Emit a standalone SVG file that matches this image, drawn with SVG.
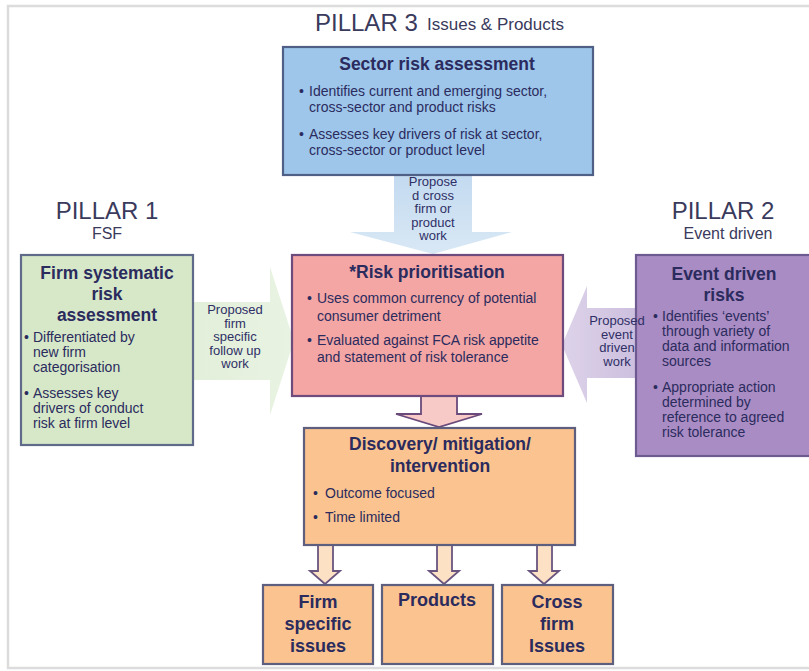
<svg xmlns="http://www.w3.org/2000/svg" width="809" height="671" viewBox="0 0 809 671">
<defs>
<linearGradient id="gBlue" x1="0" y1="0" x2="0" y2="1"><stop offset="0" stop-color="#c3daf0"/><stop offset="1" stop-color="#d9e8f5"/></linearGradient>
<linearGradient id="gGreen" x1="0" y1="0" x2="1" y2="0"><stop offset="0" stop-color="#e2efd9"/><stop offset="1" stop-color="#e9f3e3"/></linearGradient>
<linearGradient id="gPurple" x1="1" y1="0" x2="0" y2="0"><stop offset="0" stop-color="#cdbfdf"/><stop offset="1" stop-color="#ddd3e9"/></linearGradient>
<style>
text{font-family:"Liberation Sans",Arial,sans-serif;fill:#2b2b5e}
.pil{font-size:24px;fill:#3a3a5c}
.sub{font-size:16px;fill:#3a3a5c}
.t{font-size:17.5px;font-weight:bold;text-anchor:middle}
.b{font-size:14px}
.a{font-size:13px;text-anchor:middle;fill:#2f2f66}
.s{font-size:18px;font-weight:bold;text-anchor:middle}
.box{stroke-width:2.2}
.blue{fill:#9dc6ea;stroke:#4f5f85}
.pink{fill:#f3a6a4;stroke:#6e4b7d}
.green{fill:#d6e8c8;stroke:#5f6b88}
.purple{fill:#a98cc3;stroke:#6d5a90}
.orange{fill:#fac38f;stroke:#5e5e7e}
.darr{fill:#fde1c4;stroke:#6a5580;stroke-width:1.8}
</style>
</defs>
<rect x="8" y="6" width="812" height="662" fill="none" stroke="#dcdcdc" stroke-width="2.5"/>

<g id="connectors">
<path d="M394 175 H472 V232 H512 L433 254 L350 232 H394 Z" fill="url(#gBlue)"/>
<path d="M193 302 H270 V267 L294 341 L270 415 V380 H193 Z" fill="url(#gGreen)"/>
<path d="M636 308 H587 V286 L562 345 L587 403 V378 H636 Z" fill="url(#gPurple)"/>
<path d="M421 396 H457 V414 H482 L439 427 L396 414 H421 Z" fill="#f8cac7" stroke="#6a4a7a" stroke-width="1.8"/>
<path d="M318 545 H333 V571 H340 L325 584 L310 571 H318 Z" class="darr"/>
<path d="M437 545 H452 V571 H459 L444 584 L429 571 H437 Z" class="darr"/>
<path d="M537 545 H552 V571 H559 L544 584 L529 571 H537 Z" class="darr"/>
</g>

<g id="pillar3">
<text x="315" y="31" class="pil">PILLAR 3</text>
<text x="427" y="30" class="sub" style="font-size:17px">Issues &amp; Products</text>
</g>

<g id="sector">
<rect x="283" y="47" width="310" height="128" class="box blue"/>
<text x="437" y="70" class="t">Sector risk assessment</text>
<text x="299" y="96" class="b">•</text>
<text x="309" y="96" class="b">Identifies current and emerging sector,</text>
<text x="309" y="112" class="b">cross-sector and product risks</text>
<text x="299" y="139" class="b">•</text>
<text x="309" y="139" class="b">Assesses key drivers of risk at sector,</text>
<text x="309" y="155" class="b">cross-sector or product level</text>
</g>

<g id="pillar1">
<text x="107" y="219" class="pil" text-anchor="middle">PILLAR 1</text>
<text x="107" y="239" class="sub" text-anchor="middle">FSF</text>
</g>

<g id="pillar2">
<text x="723" y="219" class="pil" text-anchor="middle">PILLAR 2</text>
<text x="728" y="239" class="sub" text-anchor="middle">Event driven</text>
</g>

<g id="firm">
<rect x="21" y="255" width="172" height="190" class="box green"/>
<text x="107" y="279" class="t">Firm systematic</text>
<text x="107" y="300" class="t">risk</text>
<text x="107" y="321" class="t">assessment</text>
<text x="24" y="342" class="b">•</text>
<text x="33" y="342" class="b">Differentiated by</text>
<text x="33" y="357" class="b">new firm</text>
<text x="33" y="372" class="b">categorisation</text>
<text x="24" y="398" class="b">•</text>
<text x="33" y="398" class="b">Assesses key</text>
<text x="33" y="413" class="b">drivers of conduct</text>
<text x="33" y="428" class="b">risk at firm level</text>
</g>

<g id="risk">
<rect x="292" y="255" width="271" height="141" class="box pink"/>
<text x="427" y="278" class="t">*Risk prioritisation</text>
<text x="307" y="303" class="b">•</text>
<text x="317" y="303" class="b">Uses common currency of potential</text>
<text x="317" y="321" class="b">consumer detriment</text>
<text x="307" y="345" class="b">•</text>
<text x="317" y="345" class="b">Evaluated against FCA risk appetite</text>
<text x="317" y="362" class="b">and statement of risk tolerance</text>
</g>

<g id="event">
<rect x="636" y="255" width="175" height="201" class="box purple"/>
<text x="724" y="280" class="t">Event driven</text>
<text x="724" y="301" class="t">risks</text>
<text x="653" y="321" class="b">•</text>
<text x="662" y="321" class="b">Identifies ‘events’</text>
<text x="662" y="336" class="b">through variety of</text>
<text x="662" y="351" class="b">data and information</text>
<text x="662" y="366" class="b">sources</text>
<text x="653" y="392" class="b">•</text>
<text x="662" y="392" class="b">Appropriate action</text>
<text x="662" y="407" class="b">determined by</text>
<text x="662" y="422" class="b">reference to agreed</text>
<text x="662" y="437" class="b">risk tolerance</text>
</g>

<g id="labels">
<text x="433" y="186" class="a">Propose</text>
<text x="433" y="199.5" class="a">d cross</text>
<text x="433" y="213" class="a">firm or</text>
<text x="433" y="226.5" class="a">product</text>
<text x="433" y="240" class="a">work</text>
<text x="235" y="314" class="a">Proposed</text>
<text x="235" y="327.5" class="a">firm</text>
<text x="235" y="341" class="a">specific</text>
<text x="235" y="354.5" class="a">follow up</text>
<text x="235" y="368" class="a">work</text>
<text x="617" y="325" class="a">Proposed</text>
<text x="617" y="338.5" class="a">event</text>
<text x="617" y="352" class="a">driven</text>
<text x="617" y="365.5" class="a">work</text>
</g>

<g id="discovery">
<rect x="304" y="428" width="271" height="117" class="box orange"/>
<text x="440" y="450" class="t">Discovery/ mitigation/</text>
<text x="440" y="472" class="t">intervention</text>
<text x="313" y="498" class="b">•</text>
<text x="325" y="498" class="b">Outcome focused</text>
<text x="313" y="522" class="b">•</text>
<text x="325" y="522" class="b">Time limited</text>
</g>

<g id="firm-issues">
<rect x="263" y="585" width="110" height="79" class="box orange"/>
<text x="318" y="608" class="s">Firm</text>
<text x="318" y="630" class="s">specific</text>
<text x="318" y="652" class="s">issues</text>
</g>

<g id="products">
<rect x="382" y="585" width="111" height="79" class="box orange"/>
<text x="437" y="606" class="s">Products</text>
</g>

<g id="cross-firm">
<rect x="502" y="585" width="111" height="79" class="box orange"/>
<text x="557" y="608" class="s">Cross</text>
<text x="557" y="630" class="s">firm</text>
<text x="557" y="652" class="s">Issues</text>
</g>
</svg>
